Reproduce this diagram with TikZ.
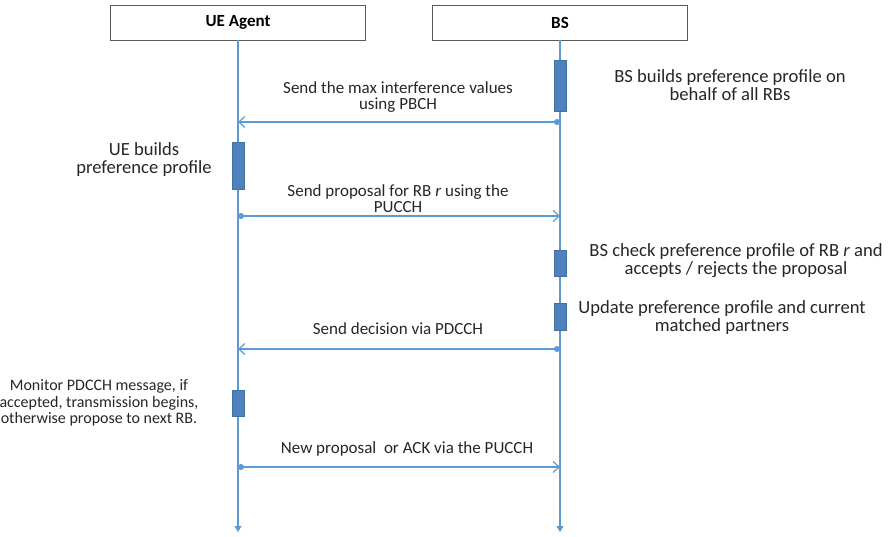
\documentclass[tikz,border=0pt]{standalone}
\usepackage{fontspec}
\setmainfont{Carlito}
\usetikzlibrary{arrows.meta}
\definecolor{lineblue}{HTML}{5B9BD5}
\definecolor{barfill}{HTML}{4F81BD}
\definecolor{barborder}{HTML}{41719C}
\definecolor{boxborder}{HTML}{595959}
\begin{document}
\begin{tikzpicture}[x=1pt,y=-1pt,
  header/.style={draw=boxborder, line width=0.9pt, minimum width=255pt, minimum height=35pt, inner sep=0pt, font=\fontsize{17}{17}\selectfont\bfseries},
  actbar/.style={draw=barborder, fill=barfill, line width=0.7pt, minimum width=12pt, inner sep=0pt},
  lifeline/.style={lineblue, line width=1.2pt, -{Triangle[width=7pt,length=6pt]}},
  msg/.style={lineblue, line width=1.2pt, {Circle[length=6pt]}-{Straight Barb[length=6pt,width=11pt]}},
  lbl/.style={font=\fontsize{17}{15.5}\selectfont, align=center, inner sep=0pt, text=black!85},
  note/.style={font=\fontsize{18.6}{18}\selectfont, align=center, inner sep=0pt, text=black!85},
  smallnote/.style={font=\fontsize{16}{16.5}\selectfont, align=center, inner sep=0pt, text=black!85}
]
\useasboundingbox (0,0) rectangle (894,537);

% headers
\node[header] (ue) at (238,22.5) {UE Agent};
\node[header] (bs) at (560,22.5) {BS};

% lifeline ends
\coordinate (ueend) at (238,532);
\coordinate (bsend) at (560,532);
\draw[lifeline] (ue.south) -- (ueend);
\draw[lifeline] (bs.south) -- (bsend);

% activation bars
\node[actbar, minimum height=51pt] (bsb1) at (560,85.5) {};
\node[actbar, minimum height=47pt] (ueb1) at (238,165.5) {};
\node[actbar, minimum height=26pt] (bsb2) at (560,263) {};
\node[actbar, minimum height=27pt] (bsb3) at (560,316.5) {};
\node[actbar, minimum height=26pt] (ueb3) at (238,403) {};

% message endpoints
\coordinate (bs1) at (560,122);
\coordinate (ue1) at (238,122);
\coordinate (ue2) at (238,216);
\coordinate (bs2) at (560,216);
\coordinate (bs3) at (560,349);
\coordinate (ue3) at (238,349);
\coordinate (ue4) at (238,467);
\coordinate (bs4) at (560,467);

\draw[msg] (bs1) -- (ue1);
\draw[msg] (ue2) -- (bs2);
\draw[msg] (bs3) -- (ue3);
\draw[msg] (ue4) -- (bs4);

% message labels
\node[lbl] (l1) at (398,97) {Send the max interference values\\using PBCH};
\node[lbl] (l2) at (398,198.5) {Send proposal for RB \textit{r} using the\\PUCCH};
\node[lbl] (l3) at (398,329) {Send decision via PDCCH};
\node[lbl] (l4) at (407,449) {New proposal\ \ or ACK via the PUCCH};

% side notes
\node[note] (n1) at (730,85) {BS builds preference profile on\\behalf of all RBs};
\node[note] (n2) at (144,160) {UE builds\\preference profile};
\node[note] (n3) at (736,261) {BS check preference profile of RB \textit{r} and\\accepts / rejects the proposal};
\node[note] (n4) at (722,318) {Update preference profile and current\\matched partners};
\node[smallnote] (n5) at (99,403) {Monitor PDCCH message, if\\accepted, transmission begins,\\otherwise propose to next RB.};
\end{tikzpicture}
\end{document}
